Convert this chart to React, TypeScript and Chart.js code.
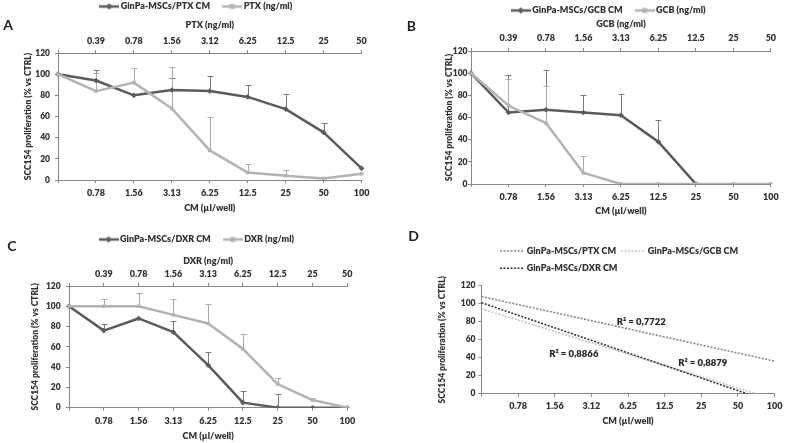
import React, { useEffect, useRef } from 'react';
import { Chart, registerables } from 'chart.js';

Chart.register(...registerables);

const FONT = 'Lato, "Open Sans", "DejaVu Sans", sans-serif';
Chart.defaults.font.family = FONT;
Chart.defaults.color = '#333333';

// ---------- data ----------
const cmLabels = ['', '0.78', '1.56', '3.13', '6.25', '12.5', '25', '50', '100'];
const cmLabelsD = ['', '0.78', '1.56', '3.12', '6.25', '12.5', '25', '50', '100'];
const ptxLabels = ['', '0.39', '0.78', '1.56', '3.12', '6.25', '12.5', '25', '50'];
const gcbLabels = ['', '0.39', '0.78', '1.56', '3.13', '6.25', '12.5', '25', '50'];
const dxrLabels = ['', '0.39', '0.78', '1.56', '3.13', '6.25', '12.5', '25', '50'];

const ptxCm = [100, 94, 80, 85, 84, 78.5, 67, 45, 11];
const ptxCmSd = [0, 10, 0, 11.5, 14, 11, 14.5, 9, 0];
const ptxDrug = [100, 84, 92, 67.5, 28, 7, 4, 1.5, 6];
const ptxDrugSd = [0, 17.5, 13.5, 39.5, 32, 8, 5, 1.5, 0];

const gcbCm = [100, 64.5, 67, 64.5, 62, 38, 0, null, null];
const gcbCmSd = [0, 34, 36, 16, 19.5, 19.5, 0, 0, 0];
const gcbDrug = [100, 70.8, 55, 10, 0, 0, 0, 0, 0];
const gcbDrugSd = [0, 24, 33.5, 15.3, 0, 0, 0, 0, 0];

const dxrCm = [100, 76, 88, 74.5, 42, 5, 0, 0, 0];
const dxrCmSd = [0, 7, 0, 11, 13, 11.5, 14, 0, 0];
const dxrDrug = [100, 100, 100, 91.5, 83, 58, 23.3, 7.5, 0];
const dxrDrugSd = [0, 7, 13.4, 15.5, 19.6, 14.5, 5.6, 1.7, 0];

// linear trend lines of panel D (start / end values)
const trendPtx = [108, null, null, null, null, null, null, null, 36.2];
const trendGcb = [94.3, null, null, null, null, null, null, null, -6.4];
const trendDxr = [101.1, null, null, null, null, null, null, null, -10.5];
const r2Texts = ['R\u00B2 = 0,7722', 'R\u00B2 = 0,8866', 'R\u00B2 = 0,8879'];
const r2Anchors = [[4.36, 80], [2.52, 44.1], [6.04, 34.4]];

const yTitle = 'SCC154 proliferation (% vs CTRL)';
const xTitle = 'CM (\u00B5l/well)';

// ---------- styles ----------
const DARK = '#5b5b5b';
const LIGHT = '#b3b3b3';
const AXIS = '#868686';
const TEXT = '#333333';
const W8 = 800;
const tickFont = { size: 9, weight: W8 };
const yTickFont = { size: 8.5, weight: W8 };
const titleFont = { size: 9, weight: W8 };
const yTitleFont = { size: 8.5, weight: W8 };

function makeSample(color: string, style: 'diamond' | 'square') {
  const c = document.createElement('canvas');
  c.width = 20;
  c.height = 8;
  const x = c.getContext('2d')!;
  x.strokeStyle = color;
  x.lineWidth = 2.5;
  x.beginPath();
  x.moveTo(0, 4);
  x.lineTo(20, 4);
  x.stroke();
  x.fillStyle = color;
  if (style === 'diamond') {
    x.beginPath();
    x.moveTo(10, 0.8);
    x.lineTo(13.2, 4);
    x.lineTo(10, 7.2);
    x.lineTo(6.8, 4);
    x.closePath();
    x.fill();
  } else {
    x.fillRect(7.5, 1.5, 5, 5);
  }
  return c;
}

const errorBarsPlugin = {
  id: 'errorBars',
  beforeDatasetsDraw(chart: any) {
    const ctx = chart.ctx;
    const yScale = chart.scales.y;
    chart.data.datasets.forEach((ds: any, i: number) => {
      const sd = ds.errUp as number[] | undefined;
      if (!sd) return;
      const meta = chart.getDatasetMeta(i);
      meta.data.forEach((pt: any, j: number) => {
        const v = ds.data[j];
        const e = sd[j];
        if (v == null || !e) return;
        const x = Math.round(pt.x) + 0.5;
        const y0 = pt.y;
        const y1 = Math.round(yScale.getPixelForValue(v + e)) + 0.5;
        ctx.save();
        ctx.strokeStyle = ds.errColor;
        ctx.lineWidth = 1;
        ctx.beginPath();
        ctx.moveTo(x, y0);
        ctx.lineTo(x, y1);
        ctx.moveTo(x - 3, y1);
        ctx.lineTo(x + 3, y1);
        ctx.stroke();
        ctx.restore();
      });
    });
  },
};

interface DoseGeom {
  cl: number; L: number; T: number; R: number; B: number;
  legendCX: number; legendY: number; yTitleX: number; yTickGap: number;
  topTitleY: number; topTickY: number; bottomTickY: number; bottomTitleY: number; pageBottom: number;
}

interface Built { left: number; top: number; width: number; height: number; config: any }

function axisGrid(tl: number) {
  return { display: true, drawOnChartArea: false, drawTicks: true, tickLength: tl, color: AXIS, lineWidth: 1 };
}
const axisBorder = { display: true, color: AXIS, width: 1 };

function doseChart(
  g: DoseGeom,
  topLabels: string[],
  topTitle: string,
  cmName: string, cmData: (number | null)[], cmSd: number[],
  drugName: string, drugData: (number | null)[], drugSd: number[],
): Built {
  const ct = Math.round(g.legendY - 19.5);
  const W = Math.ceil(g.R + 10 - g.cl);
  const padRight = g.cl + W - g.R;
  const padL = 2 * g.legendCX - g.R - g.cl;
  const yBoxLeft = g.cl + padL;
  const legendBottom = ct + 34;
  const H = g.pageBottom - ct;
  const samples = [makeSample(DARK, 'diamond'), makeSample(LIGHT, 'square')];
  const config = {
    type: 'line',
    data: {
      labels: cmLabels,
      datasets: [
        {
          label: cmName, data: cmData, errUp: cmSd, errColor: '#7a7a7a',
          borderColor: DARK, backgroundColor: DARK, borderWidth: 2.5,
          pointStyle: 'rectRot', pointRadius: 2.8, pointBorderWidth: 0, pointBackgroundColor: DARK,
          borderJoinStyle: 'round', order: 2, xAxisID: 'x', yAxisID: 'y',
        },
        {
          label: drugName, data: drugData, errUp: drugSd, errColor: '#aaaaaa',
          borderColor: LIGHT, backgroundColor: LIGHT, borderWidth: 2.5,
          pointStyle: 'rect', pointRadius: 2.5, pointBorderWidth: 0, pointBackgroundColor: LIGHT,
          borderJoinStyle: 'round', order: 1, xAxisID: 'x', yAxisID: 'y',
        },
      ],
    },
    options: {
      responsive: false,
      animation: false,
      events: [],
      layout: { padding: { left: padL, right: padRight, top: 0, bottom: 0 } },
      plugins: {
        tooltip: { enabled: false },
        legend: {
          display: true,
          position: 'top',
          align: 'center',
          labels: {
            usePointStyle: true,
            pointStyleWidth: 14,
            boxHeight: 9,
            padding: 15,
            font: { size: 9, weight: W8 },
            color: TEXT,
            sort: (a: any, b: any) => a.datasetIndex - b.datasetIndex,
            generateLabels: (chart: any) =>
              (Chart.defaults.plugins.legend.labels.generateLabels as any)(chart).map((it: any) => ({
                ...it,
                pointStyle: samples[it.datasetIndex],
              })),
          },
        },
      },
      scales: {
        x: {
          type: 'category', position: 'bottom', offset: false,
          grid: axisGrid(3), border: axisBorder,
          ticks: { autoSkip: false, maxRotation: 0, padding: g.bottomTickY - g.B - 5.4 - 3, font: tickFont, color: TEXT },
          title: {
            display: true, text: xTitle, font: titleFont, color: TEXT,
            padding: { top: 0, bottom: g.pageBottom - g.bottomTitleY - 5.4 },
          },
          afterFit: (s: any) => { s.height = g.pageBottom - g.B; },
        },
        x2: {
          type: 'category', position: 'top', offset: false, labels: topLabels,
          grid: axisGrid(3), border: axisBorder,
          ticks: { autoSkip: false, maxRotation: 0, padding: g.T - g.topTickY - 5.4 - 3, font: tickFont, color: TEXT },
          title: {
            display: true, text: topTitle, font: titleFont, color: TEXT,
            padding: { top: g.topTitleY - legendBottom - 5.4, bottom: 0 },
          },
          afterFit: (s: any) => { s.height = g.T - legendBottom; },
        },
        y: {
          min: 0, max: 120,
          grid: axisGrid(3), border: axisBorder,
          ticks: { stepSize: 20, padding: g.yTickGap - 3, font: yTickFont, color: TEXT },
          title: {
            display: true, text: yTitle, font: yTitleFont, color: TEXT,
            padding: { top: g.yTitleX - yBoxLeft - 5.1, bottom: 0 },
          },
          afterFit: (s: any) => { s.width = g.L - yBoxLeft; },
        },
      },
    },
    plugins: [errorBarsPlugin],
  };
  return { left: g.cl, top: ct, width: W, height: H, config };
}

function trendChart(): Built {
  const cl = 390, ct = 225, L = 481.5, T = 285.7, R = 776, B = 393.7, pageBottom = 431;
  const W = Math.ceil(R + 10 - cl);
  const padRight = cl + W - R;
  const padL = 40;
  const yBoxLeft = cl + padL;
  const legendRows = [[0, 1], [2]];
  const legendX = 500 - cl;
  const legendY = [251 - ct, 268.3 - ct];

  const stackLegend = {
    id: 'stackLegend',
    afterDraw(chart: any) {
      const ctx = chart.ctx;
      ctx.save();
      ctx.font = `${W8} 9px ${FONT}`;
      ctx.textBaseline = 'middle';
      ctx.textAlign = 'left';
      legendRows.forEach((row, r) => {
        let x = legendX;
        const y = legendY[r];
        row.forEach((di) => {
          const ds = chart.data.datasets[di];
          ctx.strokeStyle = ds.borderColor;
          ctx.lineWidth = ds.borderWidth;
          ctx.setLineDash(ds.borderDash);
          ctx.beginPath();
          ctx.moveTo(x, y);
          ctx.lineTo(x + 23, y);
          ctx.stroke();
          ctx.setLineDash([]);
          ctx.fillStyle = TEXT;
          ctx.fillText(ds.label, x + 26.7, y);
          x += 26.7 + ctx.measureText(ds.label).width + 5;
        });
      });
      ctx.restore();
    },
  };

  const r2Plugin = {
    id: 'r2Labels',
    afterDatasetsDraw(chart: any) {
      const ctx = chart.ctx;
      const xs = chart.scales.x;
      const ys = chart.scales.y;
      ctx.save();
      ctx.font = `${W8} 9.5px ${FONT}`;
      ctx.fillStyle = '#262626';
      ctx.textAlign = 'center';
      ctx.textBaseline = 'middle';
      r2Texts.forEach((t, i) => {
        ctx.fillText(t, xs.getPixelForValue(r2Anchors[i][0]), ys.getPixelForValue(r2Anchors[i][1]));
      });
      ctx.restore();
    },
  };

  const dsBase = { pointRadius: 0, borderWidth: 1.6, borderDash: [2, 1.5], spanGaps: true, borderCapStyle: 'butt', fill: false };
  const config = {
    type: 'line',
    data: {
      labels: cmLabelsD,
      datasets: [
        { ...dsBase, label: 'GinPa-MSCs/PTX CM', data: trendPtx, borderColor: '#858585', order: 2 },
        { ...dsBase, label: 'GinPa-MSCs/GCB CM', data: trendGcb, borderColor: '#c4c4c4', order: 1 },
        { ...dsBase, label: 'GinPa-MSCs/DXR CM', data: trendDxr, borderColor: '#353535', order: 0 },
      ],
    },
    options: {
      responsive: false,
      animation: false,
      events: [],
      layout: { padding: { left: padL, right: padRight, top: T - ct, bottom: 0 } },
      plugins: { legend: { display: false }, tooltip: { enabled: false } },
      scales: {
        x: {
          type: 'category', position: 'bottom', offset: false,
          grid: axisGrid(3), border: axisBorder,
          ticks: { autoSkip: false, maxRotation: 0, padding: 405.7 - B - 5.4 - 3, font: tickFont, color: TEXT },
          title: {
            display: true, text: xTitle, font: titleFont, color: TEXT,
            padding: { top: 0, bottom: pageBottom - 421 - 5.4 },
          },
          afterFit: (s: any) => { s.height = pageBottom - B; },
        },
        y: {
          min: 0, max: 120,
          grid: axisGrid(3), border: axisBorder,
          ticks: { stepSize: 20, padding: 3, font: yTickFont, color: TEXT },
          title: {
            display: true, text: yTitle, font: yTitleFont, color: TEXT,
            padding: { top: 442.7 - yBoxLeft - 5.1, bottom: 0 },
          },
          afterFit: (s: any) => { s.width = L - yBoxLeft; },
        },
      },
    },
    plugins: [stackLegend, r2Plugin],
  };
  return { left: cl, top: ct, width: W, height: pageBottom - ct, config };
}

const geomA: DoseGeom = { cl: 0, L: 58, T: 53, R: 364, B: 180, legendCX: 197.2, legendY: 6, yTitleX: 28, yTickGap: 8, topTitleY: 25, topTickY: 41, bottomTickY: 193, bottomTitleY: 208, pageBottom: 218 };
const geomB: DoseGeom = { cl: 390, L: 471, T: 51, R: 773, B: 184, legendCX: 609.7, legendY: 10, yTitleX: 449.5, yTickGap: 3.5, topTitleY: 24, topTickY: 37.7, bottomTickY: 196.7, bottomTitleY: 211, pageBottom: 221 };
const geomC: DoseGeom = { cl: 0, L: 69, T: 286, R: 350, B: 407.7, legendCX: 197.8, legendY: 239.3, yTitleX: 35, yTickGap: 8.3, topTitleY: 260.7, topTickY: 274.3, bottomTickY: 421, bottomTitleY: 436, pageBottom: 443 };

function ChartBox({ build }: { build: () => Built }) {
  const ref = useRef<HTMLCanvasElement>(null);
  const info = useRef<Built | null>(null);
  if (!info.current) info.current = build();
  const b = info.current;
  useEffect(() => {
    const chart = new Chart(ref.current as HTMLCanvasElement, b.config);
    return () => chart.destroy();
  }, []);
  return (
    <canvas
      ref={ref}
      width={b.width}
      height={b.height}
      style={{ position: 'absolute', left: b.left, top: b.top, width: b.width, height: b.height }}
    />
  );
}

const letterStyle: React.CSSProperties = {
  position: 'absolute',
  font: `bold 14px ${FONT}`,
  lineHeight: '14px',
  color: '#222',
};

export default function App() {
  return (
    <div style={{ position: 'fixed', left: 0, top: 0, width: 787, height: 443, overflow: 'hidden', background: '#fff' }}>
      <ChartBox build={() => doseChart(geomA, ptxLabels, 'PTX (ng/ml)', 'GinPa-MSCs/PTX CM', ptxCm, ptxCmSd, 'PTX (ng/ml)', ptxDrug, ptxDrugSd)} />
      <ChartBox build={() => doseChart(geomB, gcbLabels, 'GCB (ng/ml)', 'GinPa-MSCs/GCB CM', gcbCm, gcbCmSd, 'GCB (ng/ml)', gcbDrug, gcbDrugSd)} />
      <ChartBox build={() => doseChart(geomC, dxrLabels, 'DXR (ng/ml)', 'GinPa-MSCs/DXR CM', dxrCm, dxrCmSd, 'DXR (ng/ml)', dxrDrug, dxrDrugSd)} />
      <ChartBox build={trendChart} />
      <div style={{ ...letterStyle, left: 3.3, top: 17.7 }}>A</div>
      <div style={{ ...letterStyle, left: 406.7, top: 19.4 }}>B</div>
      <div style={{ ...letterStyle, left: 7.3, top: 239.4 }}>C</div>
      <div style={{ ...letterStyle, left: 408.3, top: 229.4 }}>D</div>
    </div>
  );
}
